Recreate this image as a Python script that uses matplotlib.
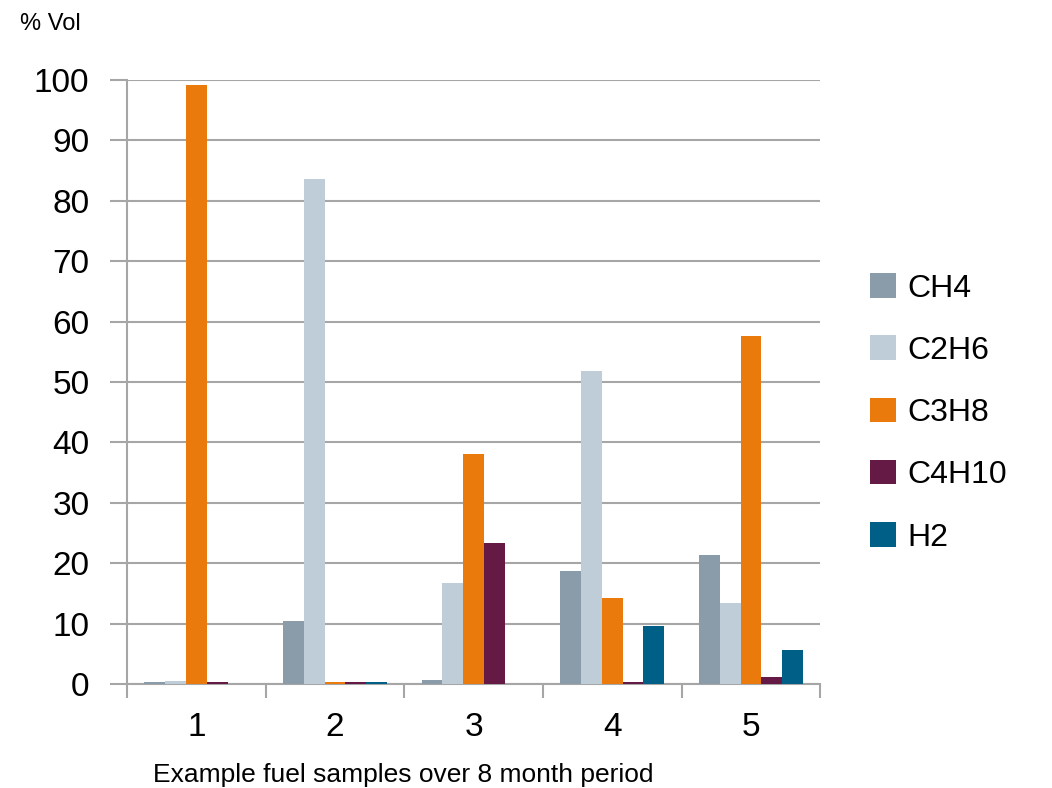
import numpy as np
import matplotlib
matplotlib.use("Agg")
import matplotlib.pyplot as plt

# fuel composition per sample (% vol)
samples = ["1", "2", "3", "4", "5"]
ch4 = [0.3, 10.4, 0.7, 18.7, 21.4]
c2h6 = [0.5, 83.6, 16.8, 51.8, 13.4]
c3h8 = [99.2, 0.3, 38.1, 14.3, 57.6]
c4h10 = [0.3, 0.3, 23.3, 0.3, 1.2]
h2 = [0.0, 0.3, 0.0, 9.6, 5.6]

series = [
    ("CH4", ch4, "#8A9BAA"),
    ("C2H6", c2h6, "#BFCDD9"),
    ("C3H8", c3h8, "#EA7A0C"),
    ("C4H10", c4h10, "#651A45"),
    ("H2", h2, "#005F87"),
]

plt.rcParams['font.family'] = ['Liberation Sans', 'DejaVu Sans']

fig = plt.figure(figsize=(10.52, 7.88), dpi=100)
ax = fig.add_axes([0.1207, 0.132, 0.659, 0.7665])

x = np.arange(len(samples))
w = 0.15
for i, (name, vals, col) in enumerate(series):
    ax.bar(x + (i - 2) * w, vals, w, color=col, label=name, zorder=3)

ax.set_xlim(-0.5, len(samples) - 0.5)
ax.set_ylim(0, 100)
ax.set_yticks(range(0, 101, 10))
ax.yaxis.grid(True, color="#A6A6A6", linewidth=1.5, zorder=0)
ax.set_axisbelow(True)

ax.set_xticks(x)
ax.set_xticklabels(samples, fontsize=24)
ax.set_xticks(np.arange(-0.5, len(samples)), minor=True)
ax.tick_params(axis="x", which="major", length=0, pad=20)
ax.tick_params(axis="x", which="minor", length=10, width=1.5, color="#A6A6A6")
ax.tick_params(axis="y", length=12, width=1.5, color="#A6A6A6", labelsize=24, pad=15)

for s in ["top", "right"]:
    ax.spines[s].set_visible(False)
for s in ["left", "bottom"]:
    ax.spines[s].set_color("#A6A6A6")
    ax.spines[s].set_linewidth(1.5)

fig.text(0.019, 0.970, "% Vol", fontsize=17, ha="left", va="center")
fig.text(0.145, 0.016, "Example fuel samples over 8 month period", fontsize=19,
         ha="left", va="center")

fig.legend(loc="center left", bbox_to_anchor=(0.8, 0.476), frameon=False,
           fontsize=23, handlelength=0.8, handleheight=0.8, handletextpad=0.35,
           labelspacing=1.0)

fig.savefig("out.png", dpi=100)
